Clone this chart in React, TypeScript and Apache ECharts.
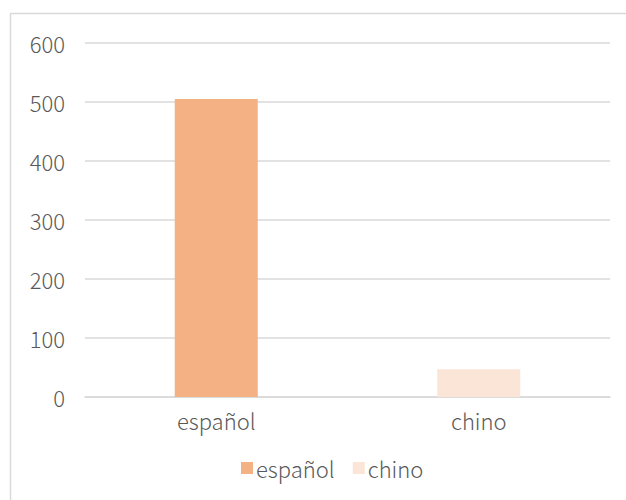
import React, { useEffect, useRef } from "react";
import * as echarts from "echarts";

const categories = ["español", "chino"];
const seriesNames = ["español", "chino"];
const espanolValues = [505, null];
const chinoValues = [null, 47];
const yTicks = { min: 0, max: 600, interval: 100 };

export default function App() {
  const ref = useRef<HTMLDivElement>(null);
  useEffect(() => {
    if (!ref.current) return;
    const chart = echarts.init(ref.current, undefined, { renderer: "svg" });
    const font = "'Noto Sans CJK SC', 'Noto Sans', sans-serif";
    const txt = { color: "#595959", fontSize: 22, fontFamily: font, fontWeight: 300 };
    chart.setOption({
      animation: false,
      textStyle: { fontFamily: font },
      graphic: [
        {
          type: "rect",
          shape: { x: 10.5, y: 13.5, width: 700, height: 600 },
          style: { fill: "none", stroke: "#D9D9D9", lineWidth: 1.5 },
          silent: true,
        },
      ],
      grid: { left: 85, right: 16, top: 43, bottom: 103, containLabel: false },
      legend: {
        top: 452,
        left: 236,
        itemWidth: 12,
        itemHeight: 12,
        itemGap: 18,
        icon: "rect",
        textStyle: { ...txt, padding: [0, 0, 0, -2] },
        data: seriesNames,
      },
      xAxis: {
        type: "category",
        data: categories,
        axisLine: { show: true, lineStyle: { color: "#D9D9D9", width: 1.5 } },
        axisTick: { show: false },
        axisLabel: { ...txt, margin: 12 },
      },
      yAxis: {
        type: "value",
        min: yTicks.min,
        max: yTicks.max,
        interval: yTicks.interval,
        axisLine: { show: false },
        axisTick: { show: false },
        splitLine: { lineStyle: { color: "#D9D9D9", width: 1.5 } },
        axisLabel: { ...txt, margin: 20 },
      },
      series: [
        {
          name: seriesNames[0],
          type: "bar",
          stack: "total",
          barWidth: 83,
          data: espanolValues,
          itemStyle: { color: "#F4B183" },
        },
        {
          name: seriesNames[1],
          type: "bar",
          stack: "total",
          barWidth: 83,
          data: chinoValues,
          itemStyle: { color: "#FBE5D6" },
        },
      ],
    });
    return () => chart.dispose();
  }, []);
  return (
    <div
      ref={ref}
      style={{ position: "fixed", left: 0, top: 0, width: 626, height: 500, background: "#fff" }}
    />
  );
}
